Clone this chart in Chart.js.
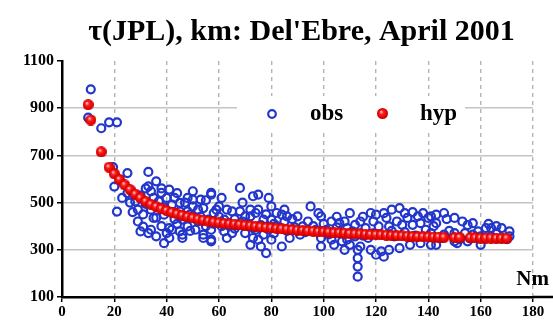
<!DOCTYPE html>
<html>
<head>
<meta charset="utf-8">
<script src="https://cdn.jsdelivr.net/npm/chart.js@4.4.1/dist/chart.umd.min.js"></script>
<style>
  html, body { margin: 0; padding: 0; background: #fff; }
  #wrap { width: 553px; height: 322px; }
</style>
</head>
<body>
<div id="wrap"><canvas id="tau-chart"></canvas></div>
<script>
const titleText = "τ(JPL), km: Del'Ebre, April 2001";
const seriesNames = ["obs", "hyp"];
const xTicks = [0, 20, 40, 60, 80, 100, 120, 140, 160, 180];
const yTicks = [100, 300, 500, 700, 900, 1100];

// observed points (Nm, km)
const obsX = [10, 11, 15, 18, 21, 19.5, 20, 21, 23, 25, 25, 27, 28, 29, 30, 30, 31, 32, 33, 33,
  34, 34, 35, 33, 36, 36, 36, 38, 38, 38, 39, 39, 40, 41, 41, 41, 42, 42, 43, 45,
  45, 45, 46, 46, 46, 47, 48, 48, 48, 50, 50, 50, 51, 52, 53, 54, 54, 54, 56, 57,
  57, 57, 57, 57, 59, 60, 60, 62, 62, 63, 64, 65, 65, 67, 68, 68, 69, 70, 70, 72,
  72, 73, 73, 73, 74, 74, 75, 75, 75, 76, 77, 77, 78, 79, 79, 80, 80, 80, 82, 82,
  83, 84, 84, 85, 86, 87, 88, 90, 91, 92, 95, 97, 99, 99, 99, 100, 101, 103, 103, 104,
  106, 106, 107, 108, 109, 109, 110, 112, 112, 113, 113, 113, 113, 114, 114, 116, 117, 118, 118, 120,
  120, 121, 122, 123, 124, 125, 125, 127, 128, 129, 129, 130, 132, 133, 134, 136, 137, 137, 140, 141,
  141, 141, 143, 143, 143, 146, 146, 150, 150, 150, 151, 153, 154, 155, 157, 157, 160, 160, 162, 164,
  164, 168, 168, 171, 171, 43, 44, 49, 53, 55, 58, 61, 66, 71, 76, 81, 86, 89, 93, 96,
  102, 105, 111, 115, 119, 126, 131, 135, 139, 145, 148, 152, 156, 159, 166, 170,
  26, 27, 29, 31, 32, 34, 35, 37, 39, 40, 42, 44, 47, 49, 52, 55, 58, 61, 63, 66,
  69, 72, 78, 81, 85, 88, 94, 98, 105, 108, 110, 115, 119, 123, 126, 131, 134, 138, 142, 147,
  155, 163, 166];
const obsY = [860, 980, 815, 840, 840, 650, 568, 462, 520, 625, 540, 460, 505, 420, 378, 530, 398, 495, 630, 569,
  548, 385, 435, 371, 590, 436, 357, 560, 541, 400, 449, 328, 371, 555, 392, 350, 491, 385, 520, 499,
  463, 378, 364, 428, 350, 440, 463, 399, 520, 548, 513, 484, 385, 420, 513, 477, 364, 350, 428, 541,
  534, 385, 336, 343, 470, 484, 440, 378, 428, 350, 400, 463, 371, 406, 562, 463, 420, 442, 371, 321,
  442, 527, 392, 350, 456, 385, 534, 470, 343, 314, 428, 364, 286, 520, 385, 484, 428, 343, 456, 400,
  392, 449, 314, 420, 442, 350, 385, 442, 364, 399, 484, 385, 442, 350, 314, 410, 385, 420, 343, 321,
  413, 371, 336, 300, 392, 343, 321, 406, 357, 300, 265, 229, 186, 420, 314, 392, 350, 456, 300, 449,
  279, 399, 293, 271, 435, 399, 300, 357, 420, 477, 307, 406, 435, 321, 406, 442, 413, 328, 435, 442,
  371, 321, 413, 449, 321, 456, 364, 435, 371, 336, 328, 420, 371, 336, 413, 364, 357, 321, 392, 392,
  357, 392, 350, 378, 357, 430, 410, 450, 440, 400, 410, 400, 390, 410, 405, 370, 380, 395, 375, 400,
  365, 395, 378, 360, 370, 380, 375, 360, 385, 350, 380, 345, 348, 378, 372, 345,
  500, 540, 470, 450, 560, 470, 520, 505, 480, 520, 460, 540, 500, 380, 470, 510, 455, 520, 470, 430,
  500, 470, 450, 410, 470, 430, 420, 455, 440, 420, 455, 440, 420, 455, 470, 455, 460, 455, 400, 430,
  405, 410, 400];

// fitted (hypothesis) curve points
const hypX = [10, 11, 15, 18, 20, 22, 24, 26, 28, 30, 32, 34, 36, 38, 40, 42, 44, 46, 48, 50,
  52, 54, 56, 58, 60, 62, 64, 66, 68, 70, 72, 74, 76, 78, 80, 82, 84, 86, 88, 90,
  92, 94, 96, 98, 100, 102, 104, 106, 108, 110, 112, 114, 116, 118, 120, 122, 124, 126, 128, 130,
  132, 134, 136, 138, 140, 142, 144, 146, 150, 152, 156, 158, 160, 162, 164, 166, 168, 170];
const hypY = [915, 850, 715, 650, 622, 598, 575, 555, 536, 520, 505, 493, 483, 474, 466, 459, 452, 446, 440, 435,
  430, 426, 422, 418, 415, 412, 410, 408, 406, 404, 402, 399, 397, 395, 393, 391, 389, 387, 385, 383,
  382, 380, 379, 377, 376, 375, 373, 372, 371, 369, 368, 367, 366, 365, 364, 363, 362, 361, 360, 359,
  358, 357, 356, 356, 355, 354, 354, 353, 352, 352, 351, 351, 350, 350, 350, 349, 349, 349];

const serif = "'Liberation Serif', 'Times New Roman', serif";
const obsColor = "#2236cc";

// shaded red ball for the hyp markers
function makeBall(d) {
  const c = document.createElement("canvas");
  c.width = d;
  c.height = d;
  const g = c.getContext("2d");
  const r = d / 2;
  const grad = g.createRadialGradient(r * 0.75, r * 0.7, 0.5, r, r, r);
  grad.addColorStop(0, "#ffc0c0");
  grad.addColorStop(0.3, "#ff2020");
  grad.addColorStop(0.8, "#e00000");
  grad.addColorStop(1, "#c00000");
  g.fillStyle = grad;
  g.beginPath();
  g.arc(r, r, r, 0, Math.PI * 2);
  g.fill();
  return c;
}
const ball = makeBall(11);

const obsData = obsX.map((x, i) => ({ x: x, y: obsY[i] }));
const hypData = hypX.map((x, i) => ({ x: x, y: hypY[i] }));

const extras = {
  id: "extras",
  afterDraw(chart) {
    const ctx = chart.ctx;
    const area = chart.chartArea;
    ctx.save();
    // title
    ctx.fillStyle = "#000";
    ctx.font = "bold 30px " + serif;
    ctx.textAlign = "center";
    ctx.textBaseline = "middle";
    ctx.fillText(titleText, (area.left + area.right) / 2 + 4, 32);
    // x axis runs on past the last tick
    ctx.strokeStyle = "#000";
    ctx.lineWidth = 2.5;
    ctx.beginPath();
    ctx.moveTo(area.right, area.bottom);
    ctx.lineTo(553, area.bottom);
    ctx.stroke();
    // axis name
    ctx.font = "bold 21px " + serif;
    ctx.textAlign = "right";
    ctx.textBaseline = "alphabetic";
    ctx.fillText("Nm", 549, 285);
    // legend
    ctx.fillStyle = "#fff";
    ctx.fillRect(237, 96, 228, 36);
    ctx.strokeStyle = obsColor;
    ctx.lineWidth = 2.2;
    ctx.beginPath();
    ctx.arc(272, 114, 3.8, 0, Math.PI * 2);
    ctx.stroke();
    ctx.drawImage(ball, 377, 108);
    ctx.fillStyle = "#000";
    ctx.font = "bold 23px " + serif;
    ctx.textAlign = "left";
    ctx.textBaseline = "middle";
    ctx.fillText(seriesNames[0], 310, 114);
    ctx.fillText(seriesNames[1], 420, 114);
    ctx.restore();
  }
};

new Chart("tau-chart", {
  type: "scatter",
  data: {
    datasets: [
      {
        label: seriesNames[0],
        data: obsData,
        order: 1,
        pointStyle: "circle",
        pointRadius: 4,
        pointBorderWidth: 2.2,
        borderColor: obsColor,
        backgroundColor: "rgba(255,255,255,0)",
      },
      {
        label: seriesNames[1],
        data: hypData,
        order: 0,
        pointStyle: ball,
        pointRadius: 5.5,
      },
    ],
  },
  options: {
    responsive: true,
    maintainAspectRatio: false,
    animation: false,
    layout: { padding: { left: 0, right: 20, top: 61, bottom: 0 } },
    plugins: {
      legend: { display: false },
      tooltip: { enabled: false },
      title: { display: false },
    },
    scales: {
      x: {
        type: "linear",
        min: xTicks[0],
        max: xTicks[xTicks.length - 1],
        afterFit(scale) { scale.height = 25; },
        afterBuildTicks(scale) { scale.ticks = xTicks.map(v => ({ value: v })); },
        ticks: {
          color: "#000",
          padding: 1,
          maxRotation: 0,
          callback: v => String(v),
          font: { family: serif, size: 15, weight: "bold" },
        },
        grid: {
          color: ctx => (ctx.tick && ctx.tick.value === 0 ? "rgba(0,0,0,0)" : "#b4b4b4"),
          lineWidth: 1.4,
          tickColor: "#000",
          tickLength: 5,
          tickWidth: 1.5,
        },
        border: { display: true, color: "#000", width: 2.5, dash: [4, 4] },
      },
      y: {
        type: "linear",
        min: yTicks[0],
        max: yTicks[yTicks.length - 1],
        afterFit(scale) { scale.width = 62; },
        afterBuildTicks(scale) { scale.ticks = yTicks.map(v => ({ value: v })); },
        ticks: {
          color: "#000",
          padding: 3,
          callback: v => String(v),
          font: { family: serif, size: 16, weight: "bold" },
        },
        grid: {
          color: ctx => (ctx.tick && (ctx.tick.value === 100 || ctx.tick.value === 1100) ? "rgba(0,0,0,0)" : "#c4c4c4"),
          lineWidth: 1.5,
          tickColor: "#000",
          tickLength: 5,
          tickWidth: 1.5,
        },
        border: { display: true, color: "#000", width: 2.5 },
      },
    },
  },
  plugins: [extras],
});
</script>
</body>
</html>
